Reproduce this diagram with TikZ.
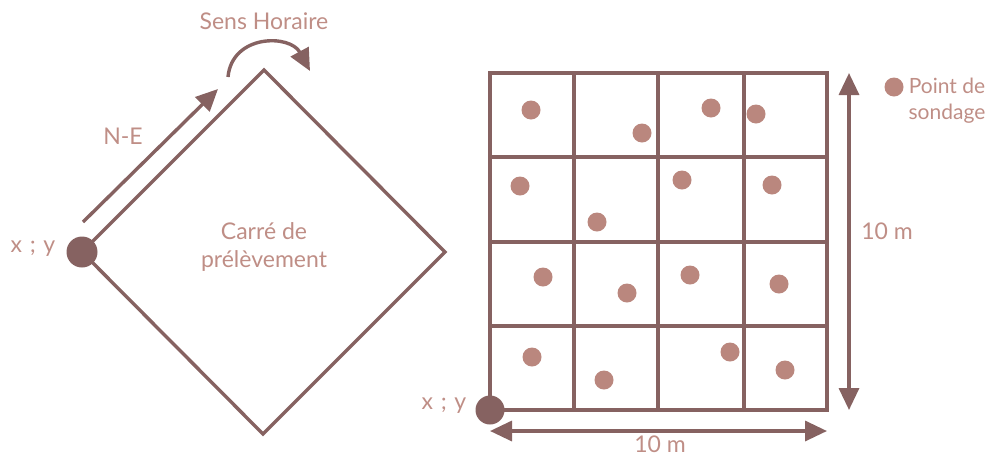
\documentclass[tikz,border=0pt]{standalone}
\usepackage{fontspec}
\setmainfont{Lato}
\usetikzlibrary{arrows.meta}
\definecolor{linec}{HTML}{866261}
\definecolor{dotc}{HTML}{BA877E}
\definecolor{textc}{HTML}{BF8E86}
\begin{document}
\begin{tikzpicture}[x=1pt,y=-1pt,
  ln/.style={draw=linec, line width=3.4pt},
  arr/.style={draw=linec, line width=3.4pt, -{Triangle[length=22pt,width=20pt]}},
  darr/.style={draw=linec, line width=3.4pt, {Triangle[length=22pt,width=20pt]}-{Triangle[length=22pt,width=20pt]}},
  lbl/.style={text=textc, font=\fontsize{23}{27}\selectfont, inner sep=0pt, align=center},
  leg/.style={lbl, font=\fontsize{21}{25}\selectfont},
  bigdot/.style={circle, fill=linec, minimum size=31pt, inner sep=0pt},
  sdot/.style={circle, fill=dotc, minimum size=19pt, inner sep=0pt}]
\useasboundingbox (0,0) rectangle (987,456);
% ---- left: diamond ----
\coordinate (dl) at (82,252);
\coordinate (dt) at (264,70);
\coordinate (dr) at (445,252);
\coordinate (db) at (263,434);
\draw[ln, line join=miter] (dl) -- (dt) -- (dr) -- (db) -- cycle;
\node[bigdot] (o1) at (dl) {};
\node[lbl] (xy1) at (33,249) {x\,\,;\,\,y};
\coordinate (ne1) at (83,222);
\coordinate (ne2) at (218,89);
\draw[arr] (ne1) -- (ne2);
\node[lbl] (nel) at (123,136) {N-E};
\coordinate (sh1) at (228,77);
\coordinate (sh2) at (310,71);
\draw[arr] (sh1) .. controls (232,34) and (290,34) .. (sh2);
\node[lbl] (shl) at (264,21) {Sens Horaire};
\node[lbl] (car) at (264,247) {Carré de\\[1pt]prélèvement};
% ---- right: grid ----
\draw[ln] (490,73) rectangle (827,410);
\foreach \x in {574,658,744} \draw[ln] (\x,73) -- (\x,410);
\foreach \y in {157,242,326} \draw[ln] (490,\y) -- (827,\y);
\foreach \p [count=\i] in {(531,110),(642,133),(711,108),(756,114),
  (520,186),(597,222),(682,180),(772,185),
  (543,277),(627,293),(690,275),(779,284),
  (532,357),(604,380),(730,352),(785,370)}
  \node[sdot] (d\i) at \p {};
\node[bigdot, minimum size=29pt] (o2) at (490,410) {};
\node[lbl] (xy2) at (444,406) {x\,\,;\,\,y};
% dimension arrows
\coordinate (v1) at (849,73);
\coordinate (v2) at (849,410);
\draw[darr] (v1) -- (v2);
\node[lbl] (vl) at (887,231) {10 m};
\coordinate (h1) at (490,431);
\coordinate (h2) at (827,431);
\draw[darr] (h1) -- (h2);
\node[lbl] (hl) at (660,444) {10 m};
% legend
\node[sdot] (ld) at (894,87) {};
\node[leg] (lt) at (947,101) {Point de\\[1pt]sondage};
\end{tikzpicture}
\end{document}
